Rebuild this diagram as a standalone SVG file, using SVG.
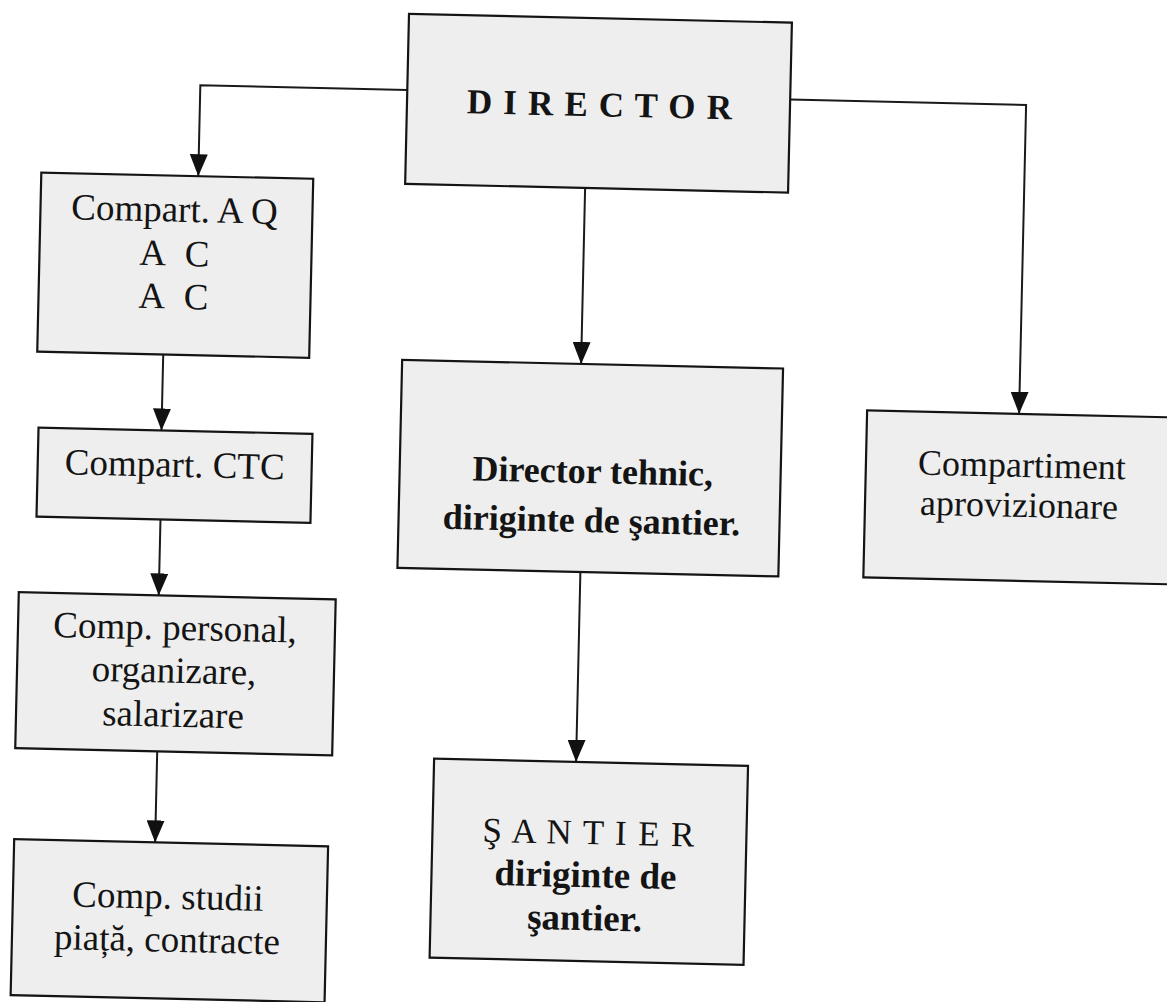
<svg xmlns="http://www.w3.org/2000/svg" width="1167" height="1002" viewBox="0 0 1167 1002">
<style>
.box{fill:#eeeeee;stroke:#141414;stroke-width:2.2}
.ln{fill:none;stroke:#1a1a1a;stroke-width:2}
.t{font-family:"Liberation Serif","Times New Roman",serif;fill:#141414;text-anchor:middle;font-size:37px}
.b{font-weight:bold}
</style>
<defs>
<marker id="arr" viewBox="0 0 22 18" refX="22" refY="9" markerWidth="22" markerHeight="18" markerUnits="userSpaceOnUse" orient="auto">
<path d="M0,0 L22,9 L0,18 z" fill="#111"/>
</marker>
</defs>
<rect width="1167" height="1002" fill="#ffffff"/>
<g transform="rotate(1.3 583 501)">
<g id="connectors">
<path class="ln" d="M398,94 H191 V185" marker-end="url(#arr)"/>
<path class="ln" d="M578,188 V364" marker-end="url(#arr)"/>
<path class="ln" d="M781,95 H1017 V404" marker-end="url(#arr)"/>
<path class="ln" d="M160,364 V440" marker-end="url(#arr)"/>
<path class="ln" d="M161,529 V605" marker-end="url(#arr)"/>
<path class="ln" d="M163,761 V852" marker-end="url(#arr)"/>
<path class="ln" d="M582,572 V762" marker-end="url(#arr)"/>
</g>
<g id="director">
<rect class="box" x="398" y="18" width="383" height="170"/>
<text class="t b" x="458" y="116" style="text-anchor:start;font-size:35px" textLength="265" lengthAdjust="spacing">D I R E C T O R</text>
</g>
<g id="compart-aq">
<rect class="box" x="34" y="185" width="272" height="179"/>
<text class="t" x="168" y="231">Compart. A Q</text>
<text class="t" x="169" y="275" textLength="70" lengthAdjust="spacing">A C</text>
<text class="t" x="169" y="318" textLength="70" lengthAdjust="spacing">A C</text>
</g>
<g id="compart-ctc">
<rect class="box" x="37" y="440" width="274" height="89"/>
<text class="t" x="174" y="486">Compart. CTC</text>
</g>
<g id="comp-personal">
<rect class="box" x="21" y="605" width="317" height="156"/>
<text class="t" x="178" y="649">Comp. personal,</text>
<text class="t" x="178" y="692">organizare,</text>
<text class="t" x="178" y="736">salarizare</text>
</g>
<g id="comp-studii">
<rect class="box" x="22" y="852" width="314" height="156"/>
<text class="t" x="177" y="918">Comp. studii</text>
<text class="t" x="177" y="961">piață, contracte</text>
</g>
<g id="director-tehnic">
<rect class="box" x="399" y="364" width="381" height="208"/>
<text class="t b" x="592" y="483" style="font-size:36px">Director tehnic,</text>
<text class="t b" x="592" y="532" style="font-size:36px">diriginte de şantier.</text>
</g>
<g id="santier">
<rect class="box" x="440" y="762" width="314" height="199"/>
<text class="t" x="596" y="844" style="font-size:35px" textLength="212" lengthAdjust="spacing">Ş A N T I E R</text>
<text class="t b" x="594" y="887">diriginte de</text>
<text class="t b" x="594" y="930">şantier.</text>
</g>
<g id="compartiment-aprovizionare">
<rect class="box" x="865" y="404" width="315" height="167"/>
<text class="t" x="1021" y="467" style="font-size:36px">Compartiment</text>
<text class="t" x="1019" y="507" style="font-size:36px">aprovizionare</text>
</g>
</g>
</svg>
